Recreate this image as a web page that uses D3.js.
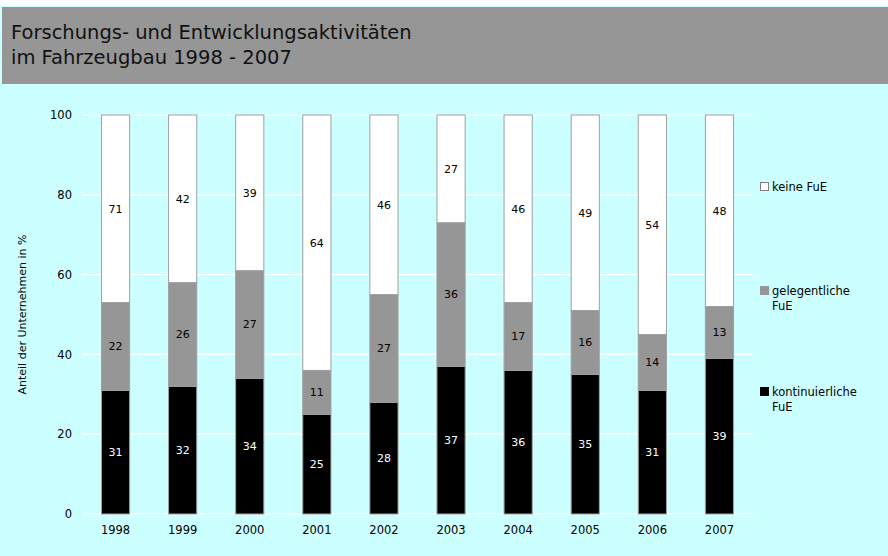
<!DOCTYPE html>
<html>
<head>
<meta charset="utf-8">
<script src="https://cdn.jsdelivr.net/npm/d3@7"></script>
<style>
  html, body { margin: 0; padding: 0; background: #fff; }
  svg { display: block; }
</style>
</head>
<body>
<div id="chart-container"></div>
<script>
// data
const years = ["1998", "1999", "2000", "2001", "2002", "2003", "2004", "2005", "2006", "2007"];
const kontinuierlich = [31, 32, 34, 25, 28, 37, 36, 35, 31, 39];
const gelegentlich = [22, 26, 27, 11, 27, 36, 17, 16, 14, 13];
const keine = [71, 42, 39, 64, 46, 27, 46, 49, 54, 48]; // printed labels, segment fills up to 100
const yTicks = [0, 20, 40, 60, 80, 100];
const titleLines = ["Forschungs- und Entwicklungsaktivitäten", "im Fahrzeugbau 1998 - 2007"];
const legendItems = [
  { label: ["keine FuE"], color: "#ffffff" },
  { label: ["gelegentliche", "FuE"], color: "#969696" },
  { label: ["kontinuierliche", "FuE"], color: "#000000" }
];

const W = 888, H = 556;
const font = "'DejaVu Sans', Verdana, sans-serif";

const svg = d3.select("#chart-container").append("svg")
  .attr("width", W)
  .attr("height", H);

// backgrounds
svg.append("rect").attr("x", 0).attr("y", 6).attr("width", W).attr("height", H - 6).attr("fill", "#ccffff");
svg.append("rect").attr("x", 2).attr("y", 7).attr("width", W - 2).attr("height", 77).attr("fill", "#969696");

// title
svg.append("g").selectAll("text")
  .data(titleLines)
  .join("text")
    .attr("x", 11)
    .attr("y", (d, i) => 39 + i * 25)
    .attr("font-family", font)
    .attr("font-size", 19.5)
    .attr("fill", "#111")
    .text(d => d);

// scales
const margin = { left: 82, right: 135, top: 115, bottom: 42 };
const x = d3.scaleBand()
  .domain(years)
  .range([margin.left, W - margin.right])
  .paddingInner(0.58)
  .paddingOuter(0.29);
const y = d3.scaleLinear()
  .domain([0, 100])
  .range([H - margin.bottom, margin.top]);

// gridlines
svg.append("g").selectAll("line")
  .data(yTicks)
  .join("line")
    .attr("x1", margin.left)
    .attr("x2", W - margin.right)
    .attr("y1", d => y(d))
    .attr("y2", d => y(d))
    .attr("stroke", "#ffffff")
    .attr("stroke-width", 1.2);

// y axis
const yAxis = d3.axisLeft(y).tickValues(yTicks).tickSize(0).tickPadding(10);
const gy = svg.append("g")
  .attr("transform", `translate(${margin.left},0)`)
  .call(yAxis);
gy.select(".domain").remove();
gy.selectAll("text").attr("font-family", font).attr("font-size", 11.5).attr("fill", "#000");

// x axis
const xAxis = d3.axisBottom(x).tickSize(0).tickPadding(12);
const gx = svg.append("g")
  .attr("transform", `translate(0,${y(0)})`)
  .call(xAxis);
gx.select(".domain").remove();
gx.selectAll("text").attr("font-family", font).attr("font-size", 11.5).attr("fill", "#000");

// y axis title
svg.append("text")
  .attr("transform", `translate(26,${(y(0) + y(100)) / 2}) rotate(-90)`)
  .attr("text-anchor", "middle")
  .attr("font-family", font)
  .attr("font-size", 11)
  .attr("fill", "#000")
  .text("Anteil der Unternehmen in %");

// stacked segments
const rows = years.map((yr, i) => ({
  year: yr,
  segs: [
    { y0: 0, y1: kontinuierlich[i], label: kontinuierlich[i], fill: "#000000", text: "#ffffff" },
    { y0: kontinuierlich[i], y1: kontinuierlich[i] + gelegentlich[i], label: gelegentlich[i], fill: "#969696", text: "#000000" },
    { y0: kontinuierlich[i] + gelegentlich[i], y1: 100, label: keine[i], fill: "#ffffff", text: "#000000" }
  ]
}));

const bar = svg.append("g").selectAll("g")
  .data(rows)
  .join("g")
    .attr("transform", d => `translate(${x(d.year)},0)`);

bar.selectAll("rect")
  .data(d => d.segs)
  .join("rect")
    .attr("x", 0)
    .attr("y", d => y(d.y1))
    .attr("width", x.bandwidth())
    .attr("height", d => y(d.y0) - y(d.y1))
    .attr("fill", d => d.fill)
    .attr("stroke", "#a0a0a0")
    .attr("stroke-width", 1);

bar.selectAll("text")
  .data(d => d.segs)
  .join("text")
    .attr("x", x.bandwidth() / 2)
    .attr("y", d => y((d.y0 + d.y1) / 2))
    .attr("dy", "0.35em")
    .attr("text-anchor", "middle")
    .attr("font-family", font)
    .attr("font-size", 11)
    .attr("fill", d => d.text)
    .text(d => d.label);

// legend
const legend = svg.append("g").selectAll("g")
  .data(legendItems)
  .join("g")
    .attr("transform", (d, i) => `translate(760,${[182, 286, 387][i]})`);
legend.append("rect")
  .attr("x", 0.5).attr("y", 0.5)
  .attr("width", 8).attr("height", 8)
  .attr("fill", d => d.color)
  .attr("stroke", d => d.color === "#ffffff" ? "#808080" : d.color)
  .attr("stroke-width", 1);
legend.selectAll("text")
  .data(d => d.label)
  .join("text")
    .attr("x", 12)
    .attr("y", (d, i) => 8.5 + i * 15)
    .attr("font-family", font)
    .attr("font-size", 11.5)
    .attr("fill", "#000")
    .text(d => d);
</script>
</body>
</html>
